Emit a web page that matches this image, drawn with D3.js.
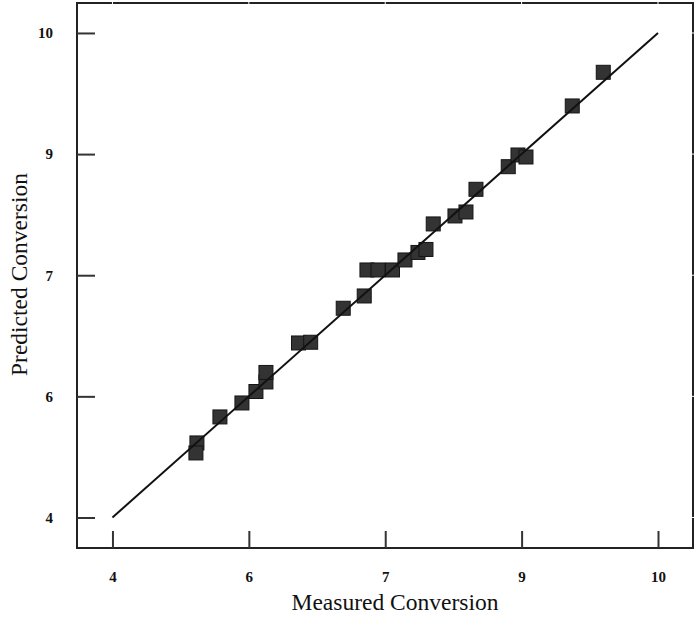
<!DOCTYPE html>
<html>
<head>
<meta charset="utf-8">
<script src="https://cdn.jsdelivr.net/npm/d3@7"></script>
<style>
  html, body { margin: 0; padding: 0; background: #fff; }
  svg { display: block; }
</style>
</head>
<body>
<svg id="chart" width="696" height="618"></svg>
<script>
// ---- data ----
const measured = [4.929, 4.918, 5.182, 5.424, 5.578, 5.688, 5.688, 6.046, 6.180, 6.538,
                  6.769, 6.799, 6.920, 7.080, 7.217, 7.360, 7.448, 7.528, 7.767, 7.888,
                  7.998, 8.353, 8.460, 8.548, 9.057, 9.398];
const predicted = [4.923, 4.799, 5.245, 5.418, 5.560, 5.678, 5.796, 6.161, 6.170, 6.591,
                   6.743, 7.065, 7.065, 7.065, 7.189, 7.282, 7.319, 7.635, 7.734, 7.783,
                   8.064, 8.344, 8.489, 8.464, 9.096, 9.513];
const tickValues = [4, 5.5, 7, 8.5, 10];
const tickLabels = ["4", "6", "7", "9", "10"];
const lineEnds = [4, 10];

// ---- layout ----
const plotL = 77, plotR = 693, plotT = 3, plotB = 548;
const svg = d3.select("#chart");

const x = d3.scaleLinear().domain([3.61, 10.385]).range([plotL, plotR]);
const y = d3.scaleLinear().domain([3.622, 10.371]).range([plotB, plotT]);

const fmt = (d) => tickLabels[tickValues.indexOf(d)];

// points
svg.append("g").selectAll("rect")
  .data(measured.map((m, i) => ({ m, p: predicted[i] })))
  .join("rect")
  .attr("x", d => x(d.m) - 7)
  .attr("y", d => y(d.p) - 7)
  .attr("width", 14)
  .attr("height", 14)
  .attr("fill", "#333")
  .attr("stroke", "#151515")
  .attr("stroke-width", 1);

// diagonal line
svg.append("line")
  .attr("x1", x(lineEnds[0])).attr("y1", y(lineEnds[0]))
  .attr("x2", x(lineEnds[1])).attr("y2", y(lineEnds[1]))
  .attr("stroke", "#111").attr("stroke-width", 2);

// frame
svg.append("rect")
  .attr("x", plotL).attr("y", plotT)
  .attr("width", plotR - plotL).attr("height", plotB - plotT)
  .attr("fill", "none").attr("stroke", "#222").attr("stroke-width", 2);

// small breaks in the frame at tick positions (top and right edges)
svg.append("g").selectAll("line.tg")
  .data(tickValues).join("line")
  .attr("x1", d => x(d)).attr("x2", d => x(d))
  .attr("y1", plotT - 1.5).attr("y2", plotT + 1.5)
  .attr("stroke", "#fff").attr("stroke-width", 1);
svg.append("g").selectAll("line.rg")
  .data(tickValues).join("line")
  .attr("y1", d => y(d)).attr("y2", d => y(d))
  .attr("x1", plotR - 1.5).attr("x2", plotR + 1.5)
  .attr("stroke", "#fff").attr("stroke-width", 1);

// axes
const xAxis = d3.axisBottom(x).tickValues(tickValues).tickFormat(fmt)
  .tickSizeInner(-17).tickSizeOuter(0).tickPadding(23);
const yAxis = d3.axisLeft(y).tickValues(tickValues).tickFormat(fmt)
  .tickSizeInner(-18).tickSizeOuter(0).tickPadding(24);

const gx = svg.append("g").attr("transform", `translate(0,${plotB})`).call(xAxis);
const gy = svg.append("g").attr("transform", `translate(${plotL},0)`).call(yAxis);
[gx, gy].forEach(g => {
  g.select(".domain").remove();
  g.selectAll(".tick line").attr("stroke", "#333").attr("stroke-width", 2);
  g.selectAll(".tick text")
    .attr("fill", "#111")
    .style("font-family", "'Liberation Serif', 'Times New Roman', serif")
    .style("font-weight", "bold")
    .style("font-size", "15px");
});

// titles
svg.append("text")
  .attr("x", 395).attr("y", 610)
  .attr("text-anchor", "middle")
  .style("font-family", "'Liberation Serif', 'Times New Roman', serif")
  .style("font-size", "23.5px")
  .attr("fill", "#111")
  .text("Measured Conversion");

svg.append("text")
  .attr("transform", "translate(27,274.5) rotate(-90)")
  .attr("text-anchor", "middle")
  .style("font-family", "'Liberation Serif', 'Times New Roman', serif")
  .style("font-size", "23.5px")
  .attr("fill", "#111")
  .text("Predicted Conversion");
</script>
</body>
</html>
